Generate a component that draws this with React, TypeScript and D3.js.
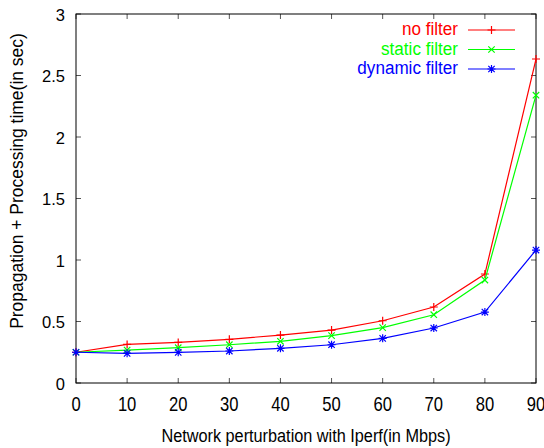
import React from "react";
import * as d3 from "d3";

const xValues = [0, 10, 20, 30, 40, 50, 60, 70, 80, 90];
const noFilter = [0.25, 0.314, 0.33, 0.355, 0.39, 0.43, 0.506, 0.618, 0.886, 2.634];
const staticFilter = [0.25, 0.268, 0.287, 0.311, 0.339, 0.385, 0.45, 0.555, 0.837, 2.34];
const dynamicFilter = [0.25, 0.241, 0.249, 0.26, 0.282, 0.311, 0.363, 0.447, 0.577, 1.081];
const xTicks = [0, 10, 20, 30, 40, 50, 60, 70, 80, 90];
const yTicks = [0, 0.5, 1, 1.5, 2, 2.5, 3];
const seriesNames = ["no filter", "static filter", "dynamic filter"];
const seriesColors = ["#ff0000", "#00ff00", "#0000ff"];
const seriesMarkers = ["plus", "cross", "star"];

const W = 544, H = 448;
const L = 76, R = 536, T = 14, B = 383;
const font = "'Liberation Sans', Arial, Helvetica, sans-serif";

function Marker({ type, x, y, color }: { type: string; x: number; y: number; color: string }) {
  const s = 4;
  const plus = `M${x - s},${y}H${x + s}M${x},${y - s}V${y + s}`;
  const c = s * 0.8;
  const cross = `M${x - c},${y - c}L${x + c},${y + c}M${x - c},${y + c}L${x + c},${y - c}`;
  const d = type === "plus" ? plus : type === "cross" ? cross : plus + cross;
  return <path d={d} stroke={color} strokeWidth={1.2} fill="none" />;
}

export default function App() {
  const x = d3.scaleLinear().domain([0, 90]).range([L, R]);
  const y = d3.scaleLinear().domain([0, 3]).range([B, T]);
  const data = [noFilter, staticFilter, dynamicFilter];
  const line = d3.line<number>().x((_, i) => x(xValues[i])).y((v) => y(v));
  const tk = 5;
  return (
    <svg width={W} height={H} style={{ position: "absolute", left: 0, top: 0 }}>
      <rect width={W} height={H} fill="#fff" />
      {yTicks.map((t) => (
        <g key={"y" + t}>
          <line x1={L} x2={L + tk} y1={y(t)} y2={y(t)} stroke="#555" />
          <line x1={R} x2={R - tk} y1={y(t)} y2={y(t)} stroke="#555" />
          <text x={65} y={y(t) + 6.8} textAnchor="end" fontFamily={font} fontSize={16.5}>
            {t}
          </text>
        </g>
      ))}
      {xTicks.map((t) => (
        <g key={"x" + t}>
          <line x1={x(t)} x2={x(t)} y1={B} y2={B - tk} stroke="#555" />
          <line x1={x(t)} x2={x(t)} y1={T} y2={T + tk} stroke="#555" />
          <text
            transform={`translate(${x(t)},411) scale(0.83,1)`}
            textAnchor="middle"
            fontFamily={font}
            fontSize={20}
          >
            {t}
          </text>
        </g>
      ))}
      <rect x={L} y={T} width={R - L} height={B - T} fill="none" stroke="#000" strokeWidth={1} />
      <text
        transform={`translate(306,442) scale(0.88,1)`}
        textAnchor="middle"
        fontFamily={font}
        fontSize={18.5}
      >
        Network perturbation with Iperf(in Mbps)
      </text>
      <text
        transform={`translate(23,181) rotate(-90) scale(0.92,1)`}
        textAnchor="middle"
        fontFamily={font}
        fontSize={19}
      >
        Propagation + Processing time(in sec)
      </text>
      {data.map((s, k) => (
        <g key={"s" + k}>
          <path d={line(s) || ""} fill="none" stroke={seriesColors[k]} strokeWidth={1.2} />
          {s.map((v, i) => (
            <Marker key={i} type={seriesMarkers[k]} x={x(xValues[i])} y={y(v)} color={seriesColors[k]} />
          ))}
        </g>
      ))}
      {seriesNames.map((n, k) => {
        const ly = 30 + k * 19.5;
        return (
          <g key={"l" + k}>
            <text
              transform={`translate(458,${ly + 5.3}) scale(0.9,1)`}
              textAnchor="end"
              fontFamily={font}
              fontSize={19}
              fill={seriesColors[k]}
            >
              {n}
            </text>
            <line x1={468} x2={515} y1={ly} y2={ly} stroke={seriesColors[k]} strokeWidth={1.2} />
            <Marker type={seriesMarkers[k]} x={491.5} y={ly} color={seriesColors[k]} />
          </g>
        );
      })}
    </svg>
  );
}
